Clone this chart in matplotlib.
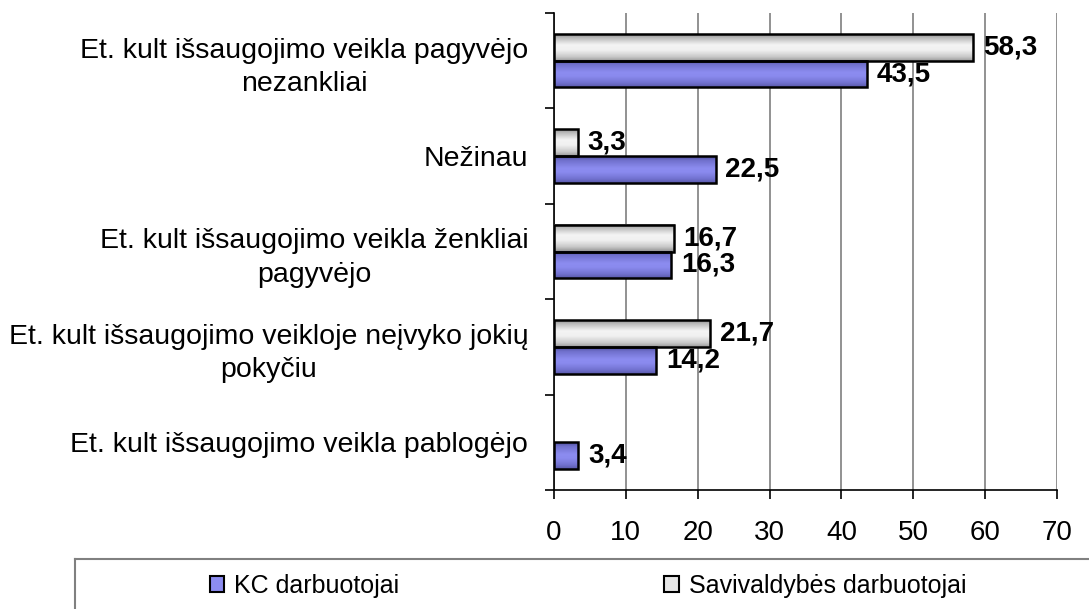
import numpy as np
import matplotlib
matplotlib.use("Agg")
import matplotlib.pyplot as plt
from matplotlib.colors import LinearSegmentedColormap
from matplotlib.lines import Line2D
from matplotlib.patches import Patch

plt.rcParams['font.family'] = ['Liberation Sans', 'DejaVu Sans']

categories = [
    "Et. kult išsaugojimo veikla pagyvėjo\nnezankliai",
    "Nežinau",
    "Et. kult išsaugojimo veikla ženkliai\npagyvėjo",
    "Et. kult išsaugojimo veikloje neįvyko jokių\npokyčiu",
    "Et. kult išsaugojimo veikla pablogėjo",
]
series_names = ["KC darbuotojai", "Savivaldybės darbuotojai"]
kc_values = [43.5, 22.5, 16.3, 14.2, 3.4]
sav_values = [58.3, 3.3, 16.7, 21.7, None]
x_ticks = [0, 10, 20, 30, 40, 50, 60, 70]

W, H = 1089, 609
fig = plt.figure(figsize=(W / 100, H / 100), dpi=100)
ax = fig.add_axes([554 / W, 1 - 490 / H, (1057 - 554) / W, (490 - 13) / H])

gray_cmap = LinearSegmentedColormap.from_list("g", [
    (0.0, "#8c8c8c"), (0.12, "#b8b8b8"), (0.4, "#f4f4f4"),
    (0.6, "#f0f0f0"), (0.85, "#c8c8c8"), (1.0, "#9a9a9a")])
blue_cmap = LinearSegmentedColormap.from_list("b", [
    (0.0, "#4d4d99"), (0.15, "#7070cc"), (0.45, "#8c8cf0"),
    (0.6, "#8a8aee"), (0.85, "#7272d0"), (1.0, "#5a5aaa")])

n = len(categories)
centers = np.arange(n)[::-1] + 0.5
bh = 0.28
off = 0.14
grad = np.linspace(0, 1, 64).reshape(-1, 1)


def draw_bars(values, ys, cmap):
    for v, y in zip(values, ys):
        if v is None:
            continue
        ax.imshow(grad, cmap=cmap, extent=(0, v, y - bh / 2, y + bh / 2),
                  aspect='auto', origin='upper', interpolation='bilinear', zorder=3)
        ax.barh(y, v, height=bh, fill=False, edgecolor='black', linewidth=1.8, zorder=4)
        ax.annotate(f"{v:.1f}".replace('.', ','), xy=(v, y), xytext=(7, 0),
                    textcoords='offset points', ha='left', va='center',
                    fontsize=20, fontweight='bold', zorder=5)


draw_bars(sav_values, centers + off, gray_cmap)
draw_bars(kc_values, centers - off, blue_cmap)

ax.set_xlim(0, 70)
ax.set_ylim(0, n)
ax.set_xticks(x_ticks)
ax.set_xticklabels([str(t) for t in x_ticks], fontsize=20)
ax.set_yticks(np.arange(n + 1))
ax.set_yticklabels([])
ax.set_yticks(centers, minor=True)
ax.set_yticklabels(categories, minor=True, fontsize=20.5, multialignment='center',
                   linespacing=1.35)
ax.tick_params(axis='y', which='major', direction='out', length=6.5, width=1.2, color='black')
ax.tick_params(axis='y', which='minor', length=0, pad=18.5)
ax.tick_params(axis='x', which='major', direction='out', length=6.5, width=1.2, color='black', pad=15)

ax.grid(axis='x', color='#7f7f7f', linewidth=1.2, zorder=0)
ax.set_axisbelow(True)
for s in ['top', 'right']:
    ax.spines[s].set_visible(False)
for s in ['left', 'bottom']:
    ax.spines[s].set_linewidth(1.2)
    ax.spines[s].set_color('black')

# legend frame
fig.add_artist(Line2D([75 / W, 1.0], [1 - 559 / H, 1 - 559 / H], color='#808080', lw=1.5))
fig.add_artist(Line2D([75 / W, 75 / W], [1 - 559 / H, 0], color='#808080', lw=1.5))

handles = [Patch(facecolor='#8c8cf0', edgecolor='black', linewidth=1.5),
           Patch(facecolor='#e6e6e6', edgecolor='black', linewidth=1.5)]
fig.legend(handles, series_names, loc='center', bbox_to_anchor=(588 / W, 1 - 586 / H),
           ncol=2, frameon=False, fontsize=18, handlelength=0.58, handleheight=0.58,
           handletextpad=0.4, columnspacing=10.6, borderaxespad=0, borderpad=0)

fig.savefig("out.png", dpi=100)
